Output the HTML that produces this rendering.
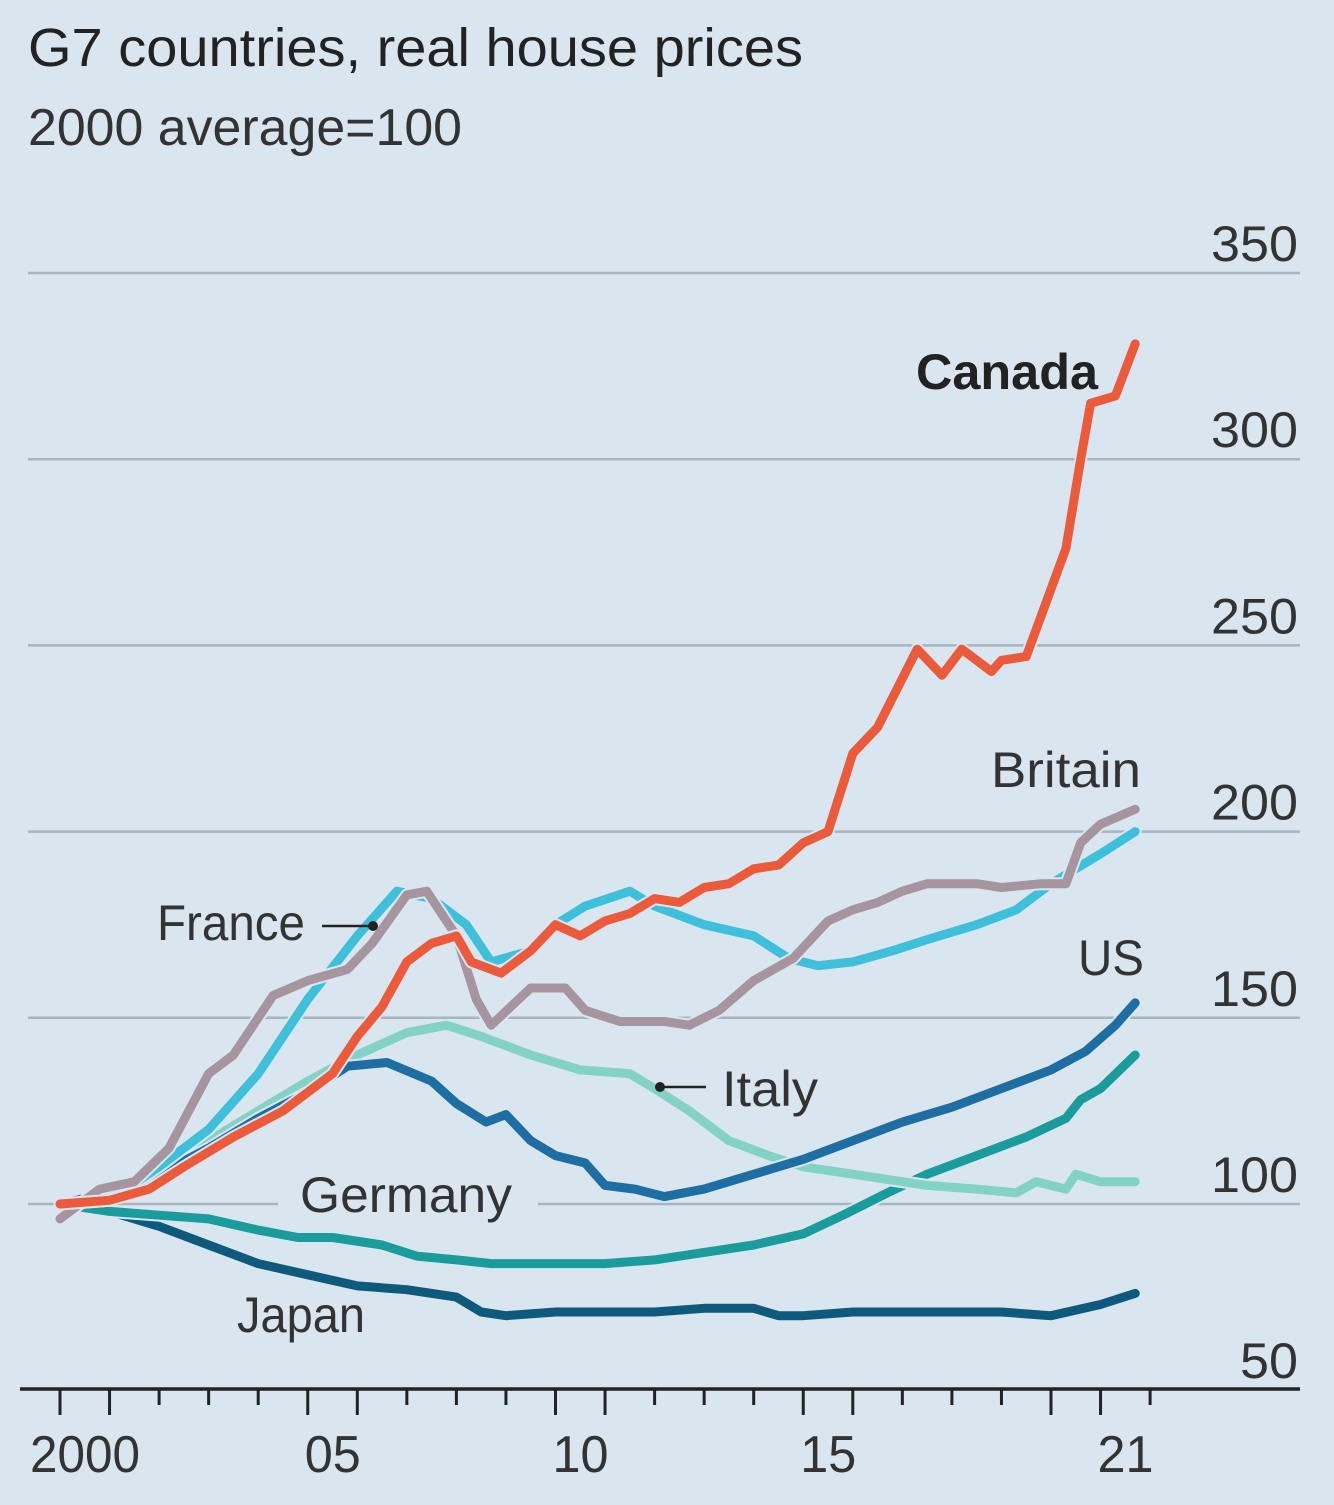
<!DOCTYPE html>
<html><head><meta charset="utf-8"><style>
html,body{margin:0;padding:0;background:#d9e6ef;}
svg{display:block;font-family:"Liberation Sans",sans-serif;}
</style></head><body>
<svg id="chart" width="1334" height="1505" viewBox="0 0 1334 1505">
<rect width="1334" height="1505" fill="#d9e6ef"/>
<text x="28" y="66" font-size="54" fill="#222" textLength="775" lengthAdjust="spacingAndGlyphs">G7 countries, real house prices</text>
<text x="28" y="145" font-size="52" fill="#333" textLength="434" lengthAdjust="spacingAndGlyphs">2000 average=100</text>
<g id="grid"></g><g id="series"></g><g id="axis"></g><g id="labels"></g>
</svg>
<script>
const yTicks=[50,100,150,200,250,300,350];
const xLabels=["2000","05","10","15","21"];
const xLabelYears=[2000,2005,2010,2015,2021];
const canadaT=[2000,2001,2001.8,2002.5,2003.5,2004.5,2005.5,2006,2006.5,2007,2007.5,2008,2008.3,2008.9,2009.5,2010,2010.5,2011,2011.5,2012,2012.5,2013,2013.5,2014,2014.5,2015,2015.5,2016,2016.5,2017.3,2017.8,2018.2,2018.8,2019,2019.5,2020.3,2020.6,2020.8,2021.3,2021.7];
const canadaV=[100,101,104,110,118,125,135,145,153,165,170,172,165,162,168,175,172,176,178,182,181,185,186,190,191,197,200,221,228,249,242,249,243,246,247,276,300,315,317,331];
const britainT=[2000,2000.8,2001.5,2002.2,2003,2003.5,2004.3,2005,2005.8,2006.3,2007,2007.4,2008,2008.4,2008.7,2009.5,2010.2,2010.6,2011.3,2012.2,2012.7,2013.3,2014,2014.8,2015.5,2016,2016.5,2017,2017.5,2018.5,2019,2019.8,2020.3,2020.6,2021,2021.7];
const britainV=[96,104,106,115,135,140,156,160,163,170,183,184,172,155,148,158,158,152,149,149,148,152,160,166,176,179,181,184,186,186,185,186,186,197,202,206];
const franceT=[2000,2001,2002,2003,2004,2005,2006,2006.8,2007.5,2008.2,2008.7,2009.5,2010,2010.6,2011.5,2012,2013,2014,2014.7,2015.3,2016,2016.8,2017.5,2018.5,2019.3,2020,2021,2021.7];
const franceV=[100,101,110,120,135,155,172,184,182,175,165,168,175,180,184,180,175,172,166,164,165,168,171,175,179,186,194,200];
const italyT=[2000,2001,2002,2003,2004,2005,2006,2007,2007.8,2008.5,2009.5,2010.5,2011.5,2012,2012.7,2013.5,2014.3,2015,2016,2016.5,2017.5,2018.5,2019.3,2019.7,2020.3,2020.5,2021,2021.7];
const italyV=[100,102,108,117,125,133,140,146,148,145,140,136,135,131,125,117,113,110,108,107,105,104,103,106,104,108,106,106];
const usT=[2000,2001,2002,2003,2004,2005,2005.8,2006.6,2007.5,2008,2008.6,2009,2009.5,2010,2010.6,2011,2011.6,2012.2,2013,2014,2015,2016,2017,2018,2019,2020,2020.7,2021.3,2021.7];
const usV=[100,103,108,115,123,130,137,138,133,127,122,124,117,113,111,105,104,102,104,108,112,117,122,126,131,136,141,148,154];
const germanyT=[2000,2001,2002,2003,2004,2004.8,2005.5,2006.5,2007.2,2008,2008.7,2010,2011,2012,2013,2014,2015,2015.8,2016.7,2017.5,2018.5,2019.5,2020.3,2020.6,2021,2021.7];
const germanyV=[100,98,97,96,93,91,91,89,86,85,84,84,84,85,87,89,92,97,103,108,113,118,123,128,131,140];
const japanT=[2000,2001,2002,2003,2004,2005,2006,2007,2008,2008.5,2009,2010,2011,2012,2013,2014,2014.5,2015,2016,2017,2018,2019,2020,2021,2021.7];
const japanV=[100,98,94,89,84,81,78,77,75,71,70,71,71,71,72,72,70,70,71,71,71,71,70,73,76];

const NS="http://www.w3.org/2000/svg";
function X(t){return 60+(t-2000)*49.55;}
function Y(v){return 1204-(v-100)*3.724;}
function mk(tag,attrs,parent){const e=document.createElementNS(NS,tag);for(const k in attrs)e.setAttribute(k,attrs[k]);parent.appendChild(e);return e;}
const grid=document.getElementById('grid'),axis=document.getElementById('axis'),ser=document.getElementById('series');
yTicks.forEach(v=>{
  if(v===50)return;
  const y=Y(v);
  if(v===100){
    const a=mk('line',{x1:28,x2:278,y1:y,y2:y,stroke:'#a9b5be','stroke-width':2.5},grid);
    
    
    const b=mk('line',{x1:538,x2:1300,y1:y,y2:y,stroke:'#a9b5be','stroke-width':2.5},grid);
    
    
  } else {
    const l=mk('line',{x1:28,x2:1300,y1:y,y2:y,stroke:'#a9b5be','stroke-width':2.5},grid);
    
    
  }
});
yTicks.forEach(v=>{
  const s=String(v);
  const t=mk('text',{x:1298,y:Y(v)-12,'font-size':50,fill:'#333','text-anchor':'end',textLength:s.length*29,lengthAdjust:'spacingAndGlyphs'},axis);
  t.textContent=s;
  
  
});
const base=mk('line',{x1:20,x2:1300,y1:1389,y2:1389,stroke:'#222','stroke-width':3.5},axis);


for(let yr=2000;yr<=2022;yr++){
  const long=[2000,2001,2005,2006,2010,2011,2015,2016,2020,2021].includes(yr);
  const tk=mk('line',{x1:X(yr),x2:X(yr),y1:1389,y2:long?1415:1405,stroke:'#222','stroke-width':3},axis);
  
  
}
xLabels.forEach((s,i)=>{
  const t=mk('text',{x:X(xLabelYears[i])+25,y:1472,'font-size':52,fill:'#333','text-anchor':'middle'},axis);
  t.setAttribute('textLength',s.length===4?110:56);
  t.setAttribute('lengthAdjust','spacingAndGlyphs');
  t.textContent=s;
  
  
});
function line(T,V,color,name){
  const d=T.map((t,i)=>(i?'L':'M')+X(t).toFixed(1)+' '+Y(V[i]).toFixed(1)).join(' ');
  const bg=mk('path',{d:d,fill:'none',stroke:'#d9e6ef','stroke-width':13,'stroke-linejoin':'round','stroke-linecap':'round'},ser);
  
  
  const p=mk('path',{d:d,fill:'none',stroke:color,'stroke-width':9,'stroke-linejoin':'round','stroke-linecap':'round'},ser);
  
  
}
line(japanT,japanV,'#0e5a7c','japan');
line(germanyT,germanyV,'#1a9c9c','germany');
line(italyT,italyV,'#82d2c6','italy');
line(usT,usV,'#1f6ea3','us');
line(franceT,franceV,'#3fc0da','france');
line(britainT,britainV,'#a6949f','britain');
line(canadaT,canadaV,'#ec5a3c','canada');
</script>
<svg style="position:absolute;left:0;top:0" width="1334" height="1505">
<g font-family="Liberation Sans, sans-serif" fill="#333">
<text x="916" y="389" font-size="50" font-weight="bold" fill="#222" textLength="182" lengthAdjust="spacingAndGlyphs">Canada</text>
<text x="991" y="787" font-size="50" textLength="150" lengthAdjust="spacingAndGlyphs">Britain</text>
<text x="157" y="940" font-size="50" textLength="148" lengthAdjust="spacingAndGlyphs">France</text>
<line x1="322" y1="926" x2="373" y2="926" stroke="#222" stroke-width="2.5"/>
<circle cx="373" cy="926" r="5" fill="#222"/>
<text x="1078" y="975" font-size="50" textLength="66" lengthAdjust="spacingAndGlyphs">US</text>
<text x="722" y="1106" font-size="50" textLength="96" lengthAdjust="spacingAndGlyphs">Italy</text>
<line x1="660" y1="1087" x2="706" y2="1087" stroke="#222" stroke-width="2.5"/>
<circle cx="660" cy="1087" r="5" fill="#222"/>
<text x="300" y="1212" font-size="50" textLength="212" lengthAdjust="spacingAndGlyphs">Germany</text>
<text x="237" y="1332" font-size="50" textLength="128" lengthAdjust="spacingAndGlyphs">Japan</text>
</g>
</svg>
</body></html>
